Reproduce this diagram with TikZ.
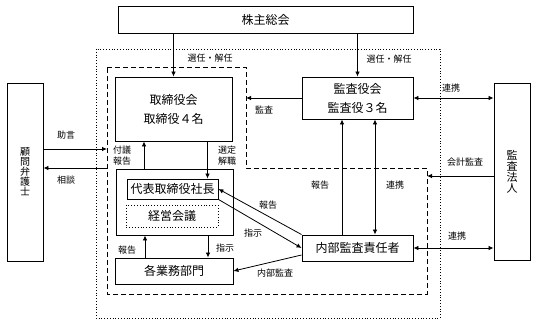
\documentclass[tikz,border=0pt]{standalone}
\usepackage{fontspec}
\setmainfont{Noto Sans CJK JP}
\usetikzlibrary{arrows.meta}

\begin{document}
\begin{tikzpicture}[
      x=1pt, y=-1pt,
      box/.style={draw, line width=0.9pt, inner sep=0pt, align=center,
                  font=\fontsize{12}{14}\selectfont},
      lbl/.style={inner sep=0pt, font=\fontsize{9}{11}\selectfont, align=center},
      arr/.style={-{Latex[length=5pt,width=4.5pt]}, line width=0.8pt},
      arrs/.style={{Latex[length=5pt,width=4.5pt]}-{Latex[length=5pt,width=4.5pt]}, line width=0.8pt}
    ]
      \useasboundingbox (0,0) rectangle (536,324);

      % frames
      \draw[dotted, line width=0.8pt] (96,49) rectangle (440,318);
      \draw[dashed, line width=0.9pt, dash pattern=on 5pt off 3pt]
        (107,67) -- (246,67) -- (246,168) -- (427,168) -- (427,294) -- (107,294) -- cycle;
      \coordinate (dashL) at (107,0);
      \coordinate (dashM) at (246,0);
      \coordinate (dashR) at (427,0);

      % boxes
      \node[box, minimum width=295pt, minimum height=27pt] (agm) at (265.5,19.5) {株主総会};
      \node[box, minimum width=117pt, minimum height=64pt] (board) at (173.5,109) {取締役会\\[5pt]取締役４名};
      \node[box, minimum width=111pt, minimum height=42pt] (kansa) at (357.5,98) {監査役会\\[5pt]監査役３名};
      \node[box, minimum width=117pt, minimum height=66pt] (exec) at (174.5,202) {};
      \node[box, minimum width=91pt, minimum height=20pt] (pres) at (172.5,189) {代表取締役社長};
      \node[box, dotted, line width=0.8pt, minimum width=92pt, minimum height=22pt] (mtg) at (172,216) {経営会議};
      \node[box, minimum width=118pt, minimum height=26pt] (depts) at (174,271) {各業務部門};
      \node[box, minimum width=111pt, minimum height=26pt] (audit) at (357.5,248) {内部監査責任者};
      \node[box, minimum width=36pt, minimum height=177pt, font=\fontsize{11}{11}\selectfont] (firm) at (512,171.5) {監\\査\\法\\人};
      \node[box, minimum width=36pt, minimum height=178pt, font=\fontsize{10}{10}\selectfont] (lawyer) at (25,172) {顧\\問\\弁\\護\\士};

      % connectors
      \draw[arr] (board.north |- agm.south) -- (board.north);
      \draw[arr] (kansa.north |- agm.south) -- (kansa.north);
      \draw[arr] (kansa.west) -- (kansa.west -| dashM);
      \draw[arrs] (kansa.east) -- (kansa.east -| firm.west);
      \draw[arr] (firm.west |- 0,176) -- (dashR |- 0,176);
      \draw[arrs] (audit.east) -- (audit.east -| firm.west);
      \draw[arr] ([xshift=-15.5pt]audit.north) -- ([xshift=-15.5pt]kansa.south);
      \draw[arrs] ([xshift=17.5pt]kansa.south) -- ([xshift=17.5pt]audit.north);
      \draw[arr] (lawyer.east |- 0,149) -- (dashL |- 0,149);
      \draw[arr] (dashL |- 0,168) -- (lawyer.east |- 0,168);
      \draw[arr] ([xshift=-30.5pt]exec.north) -- ([xshift=-30.5pt]exec.north |- board.south);
      \draw[arr] ([xshift=34pt]board.south) -- ([xshift=34pt]board.south |- pres.north);
      \draw[arr] ([xshift=-29pt]depts.north) -- ([xshift=-29pt]depts.north |- exec.south);
      \draw[arr] ([xshift=33.5pt]exec.south) -- ([xshift=33.5pt]exec.south |- depts.north);
      \draw[arr] (audit.north west) -- (pres.east);
      \draw[arr] (pres.south east) -- (audit.west);
      \draw[arr] ([yshift=-7pt]audit.west) -- (depts.east);

      % labels
      \node[lbl] (l-elect1) at (210,58) {選任・解任};
      \node[lbl] (l-elect2) at (389,59) {選任・解任};
      \node[lbl] (l-check) at (264,110) {監査};
      \node[lbl] (l-coop1) at (451,88) {連携};
      \node[lbl] (l-acct) at (465,162) {会計監査};
      \node[lbl] (l-coop2) at (457,236) {連携};
      \node[lbl] (l-rep1) at (320,185) {報告};
      \node[lbl] (l-coop3) at (395,185) {連携};
      \node[lbl] (l-advice) at (66,135) {助言};
      \node[lbl] (l-consult) at (66,180) {相談};
      \node[lbl] (l-submit) at (122,156) {付議\\報告};
      \node[lbl] (l-appoint) at (227,156) {選定\\解職};
      \node[lbl] (l-rep2) at (127,250) {報告};
      \node[lbl] (l-order1) at (225,248) {指示};
      \node[lbl] (l-rep3) at (268,205) {報告};
      \node[lbl] (l-order2) at (253,233) {指示};
      \node[lbl] (l-inaudit) at (275,273) {内部監査};
    \end{tikzpicture}
\end{document}
